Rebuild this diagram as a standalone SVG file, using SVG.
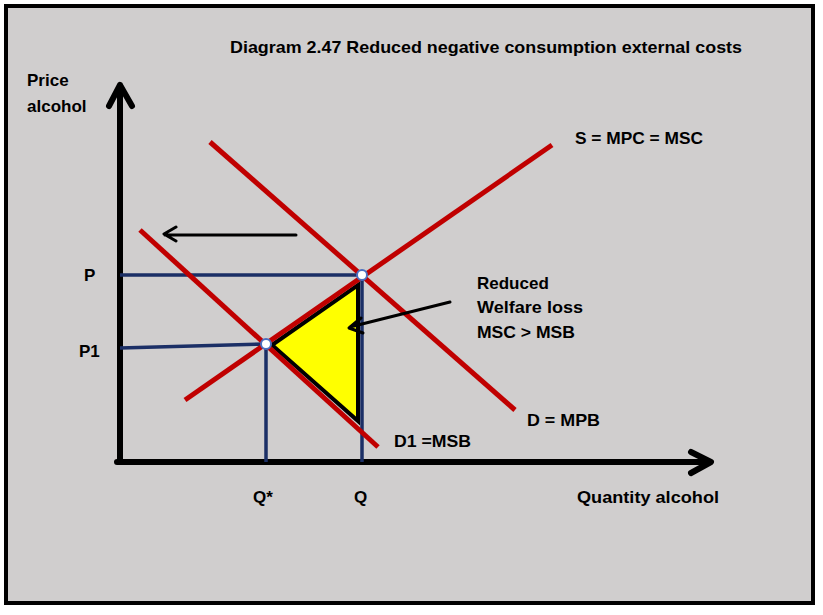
<svg xmlns="http://www.w3.org/2000/svg" width="823" height="615" viewBox="0 0 823 615">
<defs>
<style>
.t{font-family:"Liberation Sans",Arial,sans-serif;font-weight:bold;font-size:17px;fill:#000}
.red{stroke:#C00000;stroke-width:5;fill:none}
.navy{stroke:#1B2F66;stroke-width:3.5;fill:none}
.axis{stroke:#000;stroke-width:6;fill:none;stroke-linecap:round;stroke-linejoin:round}
.pt{fill:#fff;stroke:#4A6FC0;stroke-width:2}
</style>
</defs>
<rect x="0" y="0" width="823" height="615" fill="#fff"/>
<rect x="6" y="6" width="807" height="597" fill="#D0CECE" stroke="#000" stroke-width="4"/>
<g id="title"><text class="t" x="230" y="53" textLength="512" lengthAdjust="spacingAndGlyphs">Diagram 2.47 Reduced negative consumption external costs</text></g>
<g id="axes">
<path class="axis" d="M120,462 V85 M109,106 L120,85 L132,106"/>
<path class="axis" d="M117,462 H710 M691,452 L711,462 L691,473"/>
<text class="t" x="27" y="86">Price</text>
<text class="t" x="27" y="112">alcohol</text>
<text class="t" x="577" y="503" textLength="142" lengthAdjust="spacingAndGlyphs">Quantity alcohol</text>
</g>
<g id="guides">
<path class="navy" d="M120,275 H362 M120,348 L266,344 M266,344 V462 M362,275 V462"/>
<text class="t" x="84" y="281">P</text>
<text class="t" x="79" y="357">P1</text>
<text class="t" x="253" y="503">Q*</text>
<text class="t" x="354" y="503">Q</text>
</g>
<g id="welfare-loss">
<polygon points="272,345 358,285 358,421" fill="#FFFF00" stroke="#000" stroke-width="4" stroke-linejoin="miter"/>
</g>
<g id="curves">
<line id="S" class="red" x1="185" y1="400" x2="552" y2="145"/>
<line id="D" class="red" x1="210" y1="142" x2="515" y2="410"/>
<line id="D1" class="red" x1="140" y1="230" x2="378" y2="447"/>
<text class="t" x="575" y="144" textLength="128" lengthAdjust="spacingAndGlyphs">S = MPC = MSC</text>
<text class="t" x="527" y="426" textLength="73" lengthAdjust="spacingAndGlyphs">D = MPB</text>
<text class="t" x="394" y="447" textLength="77" lengthAdjust="spacingAndGlyphs">D1 =MSB</text>
</g>
<g id="points">
<circle class="pt" cx="362" cy="275" r="5"/>
<circle class="pt" cx="266" cy="344" r="5"/>
</g>
<g id="connectors">
<path d="M296,235 H165 M176,227 L164,234 L176,241" stroke="#000" stroke-width="3" fill="none" stroke-linecap="round" stroke-linejoin="round"/>
<path d="M450,302 L350,327 M361,318 L349,328 L363,333" stroke="#000" stroke-width="3" fill="none" stroke-linecap="round" stroke-linejoin="round"/>
</g>
<g id="label">
<text class="t" x="477" y="289">Reduced</text>
<text class="t" x="477" y="313" textLength="106" lengthAdjust="spacingAndGlyphs">Welfare loss</text>
<text class="t" x="477" y="338" textLength="98" lengthAdjust="spacingAndGlyphs">MSC &gt; MSB</text>
</g>
</svg>
